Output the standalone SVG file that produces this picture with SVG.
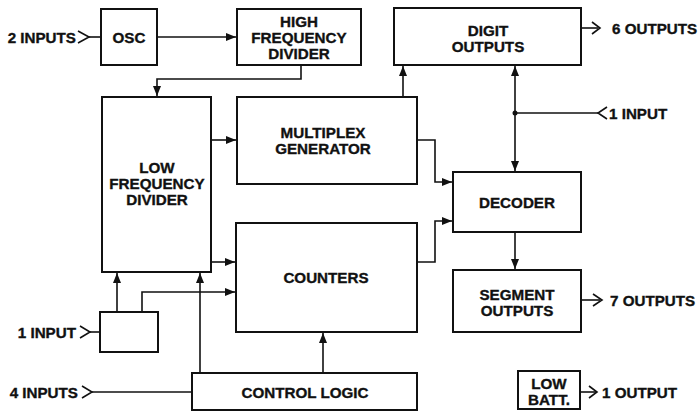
<svg xmlns="http://www.w3.org/2000/svg" width="700" height="411" viewBox="0 0 700 411">
<style>
.box{fill:#fff;stroke:#111;stroke-width:2}
.t,.l{font-family:"Liberation Sans",Arial,sans-serif;font-weight:bold;font-size:15.2px;fill:#111;stroke:#111;stroke-width:0.35;dominant-baseline:central}
.t{text-anchor:middle}
.c{fill:none;stroke:#111;stroke-width:1.6}
.a{fill:none;stroke:#111;stroke-width:1.6;marker-end:url(#ah)}
.ch{fill:none;stroke:#111;stroke-width:1.6}
</style>
<defs>
<marker id="ah" viewBox="0 0 10 8" refX="10" refY="4" markerWidth="10" markerHeight="8" markerUnits="userSpaceOnUse" orient="auto">
<path d="M0,0 L10,4 L0,8 Z" fill="#111"/>
</marker>
</defs>
<rect width="700" height="411" fill="#fff"/>
<g id="connectors">
<path class="c" d="M89,37 H101"/>
<path class="a" d="M157,37 H236"/>
<path class="a" d="M301,65 V79 H157 V96"/>
<path class="a" d="M211,140 H236"/>
<path class="a" d="M211,262 H235"/>
<path class="a" d="M403,97 V66"/>
<path class="a" d="M515,113 V66"/>
<path class="a" d="M515,113 V171"/>
<circle cx="515" cy="113" r="2.5" fill="#111"/>
<path class="c" d="M515,113 H598"/>
<path class="a" d="M417,140 H435 V182 H452"/>
<path class="a" d="M417,262 H435 V221 H452"/>
<path class="a" d="M515,232 V269"/>
<path class="c" d="M581,28 H598"/>
<path class="c" d="M581,300 H600"/>
<path class="c" d="M580,392 H596"/>
<path class="c" d="M90,332 H100"/>
<path class="a" d="M117,312 V273"/>
<path class="a" d="M142,312 V292 H235"/>
<path class="a" d="M200,373 V273"/>
<path class="a" d="M323,373 V333"/>
<path class="c" d="M92,392 H192"/>
<path class="ch" d="M78,31 L89,37 L78,43"/>
<path class="ch" d="M592,22 L600,28 L592,34"/>
<path class="ch" d="M607,107 L598,113 L607,119"/>
<path class="ch" d="M593,294 L602,300 L593,306"/>
<path class="ch" d="M589,386 L597,392 L589,398"/>
<path class="ch" d="M80,326 L90,332 L80,338"/>
<path class="ch" d="M82,386 L92,392 L82,398"/>
</g>
<g id="osc"><rect class="box" x="101" y="9" width="56" height="56"/><text class="t" x="129" y="37">OSC</text></g>
<g id="hfd"><rect class="box" x="237" y="9" width="124" height="56"/><text class="t" x="299" y="21">HIGH</text><text class="t" x="299" y="37">FREQUENCY</text><text class="t" x="299" y="53">DIVIDER</text></g>
<g id="digit"><rect class="box" x="394" y="8" width="187" height="57"/><text class="t" x="488" y="30">DIGIT</text><text class="t" x="488" y="46">OUTPUTS</text></g>
<g id="lfd"><rect class="box" x="102" y="97" width="109" height="175"/><text class="t" x="157" y="167">LOW</text><text class="t" x="157" y="183">FREQUENCY</text><text class="t" x="157" y="199">DIVIDER</text></g>
<g id="mux"><rect class="box" x="237" y="97" width="180" height="87"/><text class="t" x="323" y="132">MULTIPLEX</text><text class="t" x="323" y="148">GENERATOR</text></g>
<g id="counters"><rect class="box" x="236" y="223" width="181" height="109"/><text class="t" x="326" y="277">COUNTERS</text></g>
<g id="decoder"><rect class="box" x="453" y="172" width="128" height="60"/><text class="t" x="517" y="202">DECODER</text></g>
<g id="segment"><rect class="box" x="453" y="270" width="128" height="62"/><text class="t" x="517" y="294">SEGMENT</text><text class="t" x="517" y="310">OUTPUTS</text></g>
<g id="smallbox"><rect class="box" x="100" y="312" width="58" height="40"/></g>
<g id="control"><rect class="box" x="192" y="373" width="225" height="37"/><text class="t" x="305" y="392">CONTROL LOGIC</text></g>
<g id="lowbatt"><rect class="box" x="518" y="371" width="62" height="38"/><text class="t" x="549" y="383">LOW</text><text class="t" x="549" y="399">BATT.</text></g>
<g id="labels">
<text class="l" x="76" y="37" text-anchor="end">2 INPUTS</text>
<text class="l" x="76" y="332" text-anchor="end">1 INPUT</text>
<text class="l" x="78" y="392" text-anchor="end">4 INPUTS</text>
<text class="l" x="612" y="28">6 OUTPUTS</text>
<text class="l" x="609" y="113">1 INPUT</text>
<text class="l" x="610" y="300">7 OUTPUTS</text>
<text class="l" x="602" y="392">1 OUTPUT</text>
</g>
</svg>
